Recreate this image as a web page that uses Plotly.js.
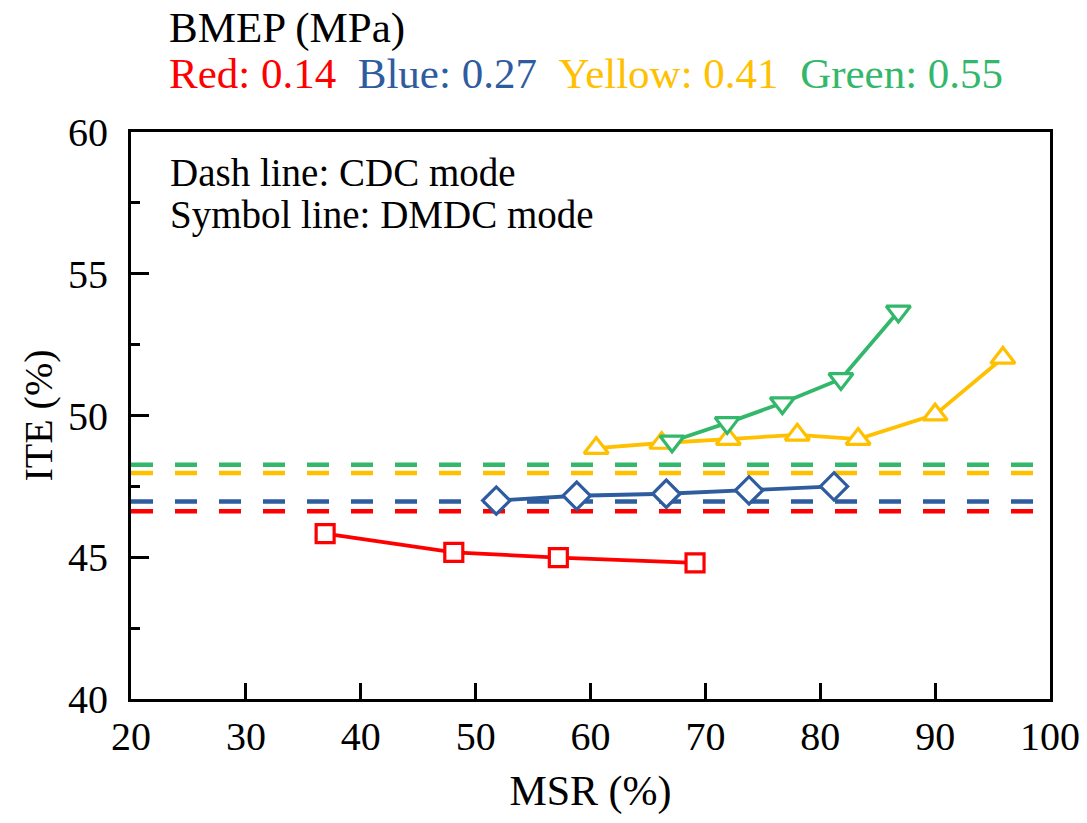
<!DOCTYPE html>
<html>
<head>
<meta charset="utf-8">
<script src="https://cdn.plot.ly/plotly-3.0.1.min.js"></script>
<style>
  html, body { margin: 0; padding: 0; background: #ffffff; }
  #chart { width: 1087px; height: 823px; }
</style>
</head>
<body>
<div id="chart"></div>
<script>
// ITE versus MSR for four BMEP loads (DMDC mode), with CDC-mode reference levels
const bmepLabels = ['0.14', '0.27', '0.41', '0.55'];
const colorNames = ['Red', 'Blue', 'Yellow', 'Green'];
const colors = ['#ff0000', '#2e5c9e', '#ffc000', '#33b86b'];

// CDC mode: one ITE level per load, drawn across the whole MSR range
const cdcMsr = [20, 100];
const cdcIte = [46.62, 46.97, 47.97, 48.26];

// DMDC mode: ITE (%) against MSR (%)
const redMsr = [36.9, 48.1, 57.2, 69.1];
const redIte = [45.83, 45.17, 44.99, 44.80];

const blueMsr = [51.8, 58.8, 66.6, 73.8, 81.2];
const blueIte = [47.00, 47.17, 47.24, 47.36, 47.50];

const yellowMsr = [60.5, 66.2, 72.0, 78.0, 83.3, 90.0, 95.9];
const yellowIte = [48.85, 49.03, 49.17, 49.32, 49.17, 50.03, 52.03];

const greenMsr = [67.1, 71.9, 76.7, 81.8, 86.8];
const greenIte = [49.09, 49.74, 50.44, 51.29, 53.67];

const xTicks = [20, 30, 40, 50, 60, 70, 80, 90, 100];
const yTicks = [40, 45, 50, 55, 60];

const serif = 'Liberation Serif, Times New Roman, serif';

const traces = [];

// dashed CDC levels
cdcIte.forEach((v, i) => {
  traces.push({
    x: cdcMsr, y: [v, v], mode: 'lines', type: 'scatter',
    line: { color: colors[i], width: 4.5, dash: '22px,22px' },
    hoverinfo: 'skip', showlegend: false
  });
});

const dmdc = [
  { x: redMsr, y: redIte, symbol: 'square', size: 18 },
  { x: blueMsr, y: blueIte, symbol: 'diamond', size: 21 },
  { x: yellowMsr, y: yellowIte, symbol: 'triangle-up', size: 21 },
  { x: greenMsr, y: greenIte, symbol: 'triangle-down', size: 21 }
];

dmdc.forEach((s, i) => {
  traces.push({
    x: s.x, y: s.y, mode: 'lines+markers', type: 'scatter',
    line: { color: colors[i], width: 3.8 },
    marker: { symbol: s.symbol, size: s.size, color: '#ffffff',
              line: { color: colors[i], width: 3.2 } },
    showlegend: false
  });
});

const legendText = colorNames.map((n, i) =>
  '<span style="color:' + colors[i] + '">' + n + ': ' + bmepLabels[i] + '</span>'
).join('&nbsp;&nbsp;');

const layout = {
  width: 1087, height: 823,
  margin: { l: 131, r: 37, t: 132, b: 124 },
  paper_bgcolor: '#ffffff', plot_bgcolor: '#ffffff',
  font: { family: serif, color: '#000000', size: 40 },
  showlegend: false,
  xaxis: {
    range: [20, 100], tickvals: xTicks, ticks: 'inside', ticklen: 16, tickwidth: 3,
    tickcolor: '#000', showline: true, linewidth: 3, linecolor: '#000', mirror: true,
    showgrid: false, zeroline: false, ticklabelstandoff: 0,
    tickfont: { family: serif, size: 40 },
    title: { text: 'MSR (%)', font: { family: serif, size: 42 }, standoff: 18 }
  },
  yaxis: {
    range: [40, 60], tickvals: yTicks, ticks: 'inside', ticklen: 18, tickwidth: 3,
    tickcolor: '#000', showline: true, linewidth: 3, linecolor: '#000', mirror: true,
    showgrid: false, zeroline: false, ticklabelstandoff: 12,
    minor: { dtick: 2.5, ticks: 'inside', ticklen: 9, tickwidth: 3, tickcolor: '#000', showgrid: false },
    tickfont: { family: serif, size: 40 },
    title: { text: 'ITE (%)', font: { family: serif, size: 40 }, standoff: 4 }
  },
  annotations: [
    { xref: 'paper', yref: 'paper', x: 0.039, y: 1.183, xanchor: 'left', yanchor: 'middle',
      text: 'BMEP (MPa)', showarrow: false, font: { family: serif, size: 43, color: '#000' } },
    { xref: 'paper', yref: 'paper', x: 0.039, y: 1.104, xanchor: 'left', yanchor: 'middle',
      text: legendText, showarrow: false, font: { family: serif, size: 43 } },
    { xref: 'paper', yref: 'paper', x: 0.040, y: 0.929, xanchor: 'left', yanchor: 'middle',
      text: 'Dash line: CDC mode', showarrow: false, font: { family: serif, size: 39, color: '#000' } },
    { xref: 'paper', yref: 'paper', x: 0.040, y: 0.854, xanchor: 'left', yanchor: 'middle',
      text: 'Symbol line: DMDC mode', showarrow: false, font: { family: serif, size: 39, color: '#000' } }
  ]
};

Plotly.newPlot('chart', traces, layout, { staticPlot: true, displayModeBar: false });
</script>
</body>
</html>
